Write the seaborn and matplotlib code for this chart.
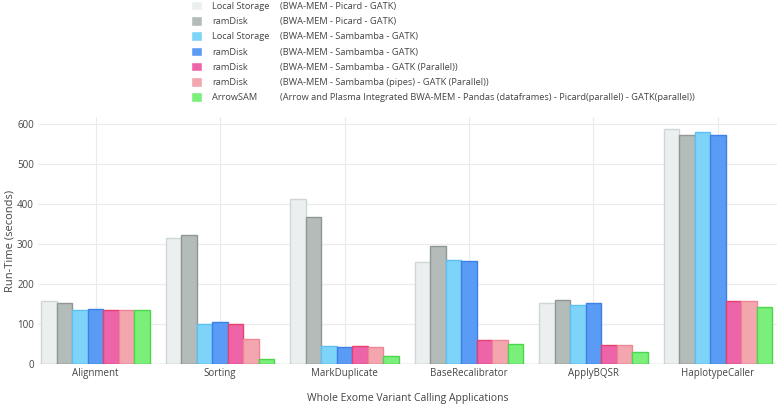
import matplotlib
matplotlib.use("Agg")
import matplotlib.pyplot as plt
import seaborn as sns
import pandas as pd

apps = ["Alignment", "Sorting", "MarkDuplicate", "BaseRecalibrator", "ApplyBQSR", "HaplotypeCaller"]

names = ["Local Storage", "ramDisk", "Local Storage", "ramDisk", "ramDisk", "ramDisk", "ArrowSAM"]
descs = [
    "(BWA-MEM - Picard - GATK)",
    "(BWA-MEM - Picard - GATK)",
    "(BWA-MEM - Sambamba - GATK)",
    "(BWA-MEM - Sambamba - GATK)",
    "(BWA-MEM - Sambamba - GATK (Parallel))",
    "(BWA-MEM - Sambamba (pipes) - GATK (Parallel))",
    "(Arrow and Plasma Integrated BWA-MEM - Pandas (dataframes) - Picard(parallel) - GATK(parallel))",
]

local_picard = [158, 316, 412, 254, 153, 589]
ramdisk_picard = [152, 322, 367, 294, 159, 573]
local_sambamba = [135, 99, 44, 259, 147, 581]
ramdisk_sambamba = [138, 105, 43, 257, 152, 573]
ramdisk_parallel = [135, 99, 44, 61, 47, 157]
ramdisk_pipes = [135, 62, 42, 61, 47, 157]
arrowsam = [136, 12, 20, 51, 29, 143]

fills = ["#EBEFF0", "#B4BCB9", "#7DD4F8", "#5A9BF5", "#EE64A8", "#F3A6AE", "#7AF07A"]
edges = ["#D0D6D8", "#8F9795", "#5CC0F5", "#3F7FE8", "#E8406E", "#EC8795", "#4CD64C"]

series = [local_picard, ramdisk_picard, local_sambamba, ramdisk_sambamba,
          ramdisk_parallel, ramdisk_pipes, arrowsam]
keys = [f"{n} {d}" for n, d in zip(names, descs)]

rows = []
for key, vals in zip(keys, series):
    for app, v in zip(apps, vals):
        rows.append({"app": app, "setup": key, "time": v})
df = pd.DataFrame(rows)

sns.set_style("white")
plt.rcParams["font.family"] = ["Open Sans", "DejaVu Sans"]

W, H = 777, 404
fig = plt.figure(figsize=(W / 100, H / 100), dpi=100)
ax = fig.add_axes([38 / W, 40 / H, (W - 38) / W, 247 / H])

sns.barplot(data=df, x="app", y="time", hue="setup", hue_order=keys,
            palette=fills, saturation=1, width=0.875, errorbar=None, ax=ax)

for cont, ec in zip(ax.containers, edges):
    for p in cont.patches:
        p.set_edgecolor(ec)
        p.set_linewidth(1.0)
        p.set_zorder(3)

handles, _ = ax.get_legend_handles_labels()
ax.get_legend().remove()

ax.set_xlim(-0.462, 5.474)
ax.set_ylim(0, 618)
ax.set_yticks([0, 100, 200, 300, 400, 500, 600])
ax.grid(True, color="#EBEBEB", linewidth=0.8, zorder=0)
ax.set_axisbelow(True)
for s in ax.spines.values():
    s.set_visible(False)
ax.axhline(0, color="#555555", linewidth=0.8, zorder=4)
ax.tick_params(axis="both", length=0, colors="#444444", labelsize=7, pad=3)
ax.set_xlabel("Whole Exome Variant Calling Applications", fontsize=7.5, color="#444444", labelpad=10)
ax.set_ylabel("Run-Time (seconds)", fontsize=8, color="#444444")
ax.yaxis.set_label_coords(-0.031, 0.5)

leg = fig.legend(handles, names, loc="upper left", bbox_to_anchor=(190 / W, 1.0),
                 frameon=False, fontsize=6.7, handlelength=1.18, handleheight=1.18,
                 handletextpad=1.1, labelspacing=0.58, borderaxespad=0.0, borderpad=0.1,
                 labelcolor="#444444")

fig.canvas.draw()
for t, d in zip(leg.get_texts(), descs):
    bb = t.get_window_extent()
    yc = (bb.y0 + bb.y1) / 2 / H
    fig.text(280 / W, yc, d, fontsize=6.7, color="#444444", va="center", ha="left")

fig.savefig("out.png", dpi=100)
